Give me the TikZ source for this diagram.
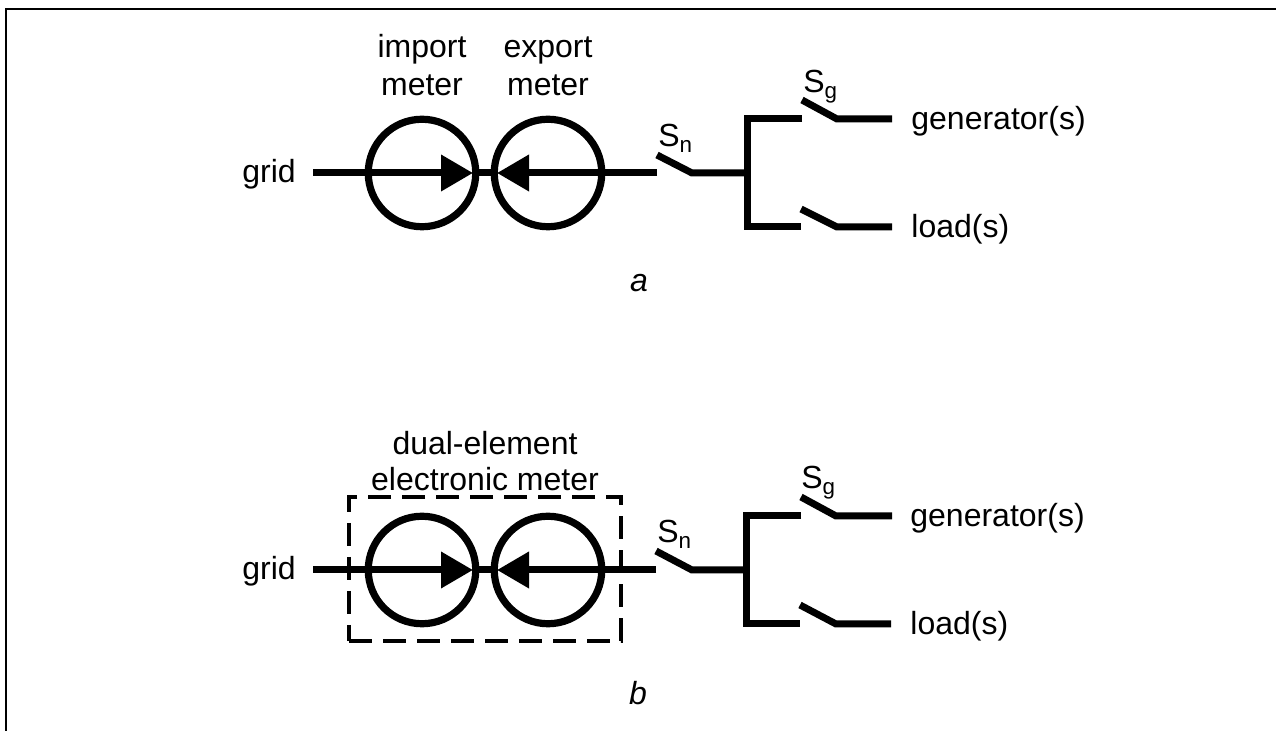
\documentclass[tikz,border=0pt]{standalone}
\usepackage{fontspec}
\setmainfont{Liberation Sans}
\usetikzlibrary{arrows.meta}
\tikzset{
  wire/.style={line width=3.5pt},
  meter/.style={draw, circle, line width=3.6pt, minimum size=53.75pt, inner sep=0pt},
  flow/.style={wire, -{Triangle[length=16pt, width=17.5pt]}},
  dashbox/.style={draw, line width=2.1pt, dash pattern=on 11.5pt off 5.5pt, minimum width=136pt, minimum height=72pt, inner sep=0pt},
  label/.style={font=\fontsize{16}{19}\selectfont, anchor=base, inner sep=0pt, align=center},
  tag/.style={font=\fontsize{16}{19}\selectfont, anchor=base west, inner sep=0pt}
}

\begin{document}
\begin{tikzpicture}[x=.5pt, y=-.5pt]
  \useasboundingbox (0, 0) rectangle (1276, 731);
  % frame
  \coordinate (frameL) at (6, 731);
  \coordinate (frameC) at (6, 9);
  \coordinate (frameR) at (1276, 9);
  \draw[line width=1.3pt] (frameL) -- (frameC) -- (frameR);

  % diagram a: meters
  \node[meter] (impA) at (422, 173) {};
  \node[meter] (expA) at (548, 173) {};
  \coordinate (startA) at (313, 173);
  \coordinate (tipLA) at (473, 173);
  \coordinate (tipRA) at (497, 173);
  \coordinate (stopA) at (657, 173);
  \draw[flow] (startA) -- (tipLA);
  \draw[flow] (stopA) -- (tipRA);
  \draw[wire] (tipLA) -- (tipRA);
  % diagram a: switches
  \coordinate (snOpenA) at (657, 155);
  \coordinate (snA) at (692, 173);
  \coordinate (busA) at (747, 173);
  \coordinate (busTopA) at (747, 119);
  \coordinate (busLowA) at (747, 227);
  \coordinate (sgInA) at (802, 119);
  \coordinate (sgOpenA) at (802, 100);
  \coordinate (sgA) at (837, 119);
  \coordinate (genA) at (892, 119);
  \coordinate (slInA) at (801, 227);
  \coordinate (slOpenA) at (801, 209);
  \coordinate (slA) at (837, 227);
  \coordinate (loadA) at (892, 227);
  \draw[wire] (snOpenA) -- (snA) -- (busA);
  \draw[wire] (sgInA) -- (busTopA) -- (busLowA) -- (slInA);
  \draw[wire] (sgOpenA) -- (sgA) -- (genA);
  \draw[wire] (slOpenA) -- (slA) -- (loadA);
  % diagram a: labels
  \node[label] (gridA) at (269, 183) {grid};
  \node[label] (impTextA) at (422, 96) {import\\meter};
  \node[label] (expTextA) at (548, 96) {export\\meter};
  \node[tag] (snTextA) at (658, 147) {S\textsubscript{n}};
  \node[tag] (sgTextA) at (803, 93) {S\textsubscript{g}};
  \node[tag] (genTextA) at (911, 130) {generator(s)};
  \node[tag] (loadTextA) at (911, 238) {load(s)};
  \node[label] (capA) at (639, 292) {\itshape a};

  % diagram b: meters
  \node[dashbox] (boxB) at (485, 569) {};
  \node[meter] (impB) at (422, 570) {};
  \node[meter] (expB) at (548, 570) {};
  \coordinate (startB) at (313, 570);
  \coordinate (tipLB) at (473, 570);
  \coordinate (tipRB) at (497, 570);
  \coordinate (stopB) at (656, 570);
  \draw[flow] (startB) -- (tipLB);
  \draw[flow] (stopB) -- (tipRB);
  \draw[wire] (tipLB) -- (tipRB);
  % diagram b: switches
  \coordinate (snOpenB) at (656, 551);
  \coordinate (snB) at (692, 570);
  \coordinate (busB) at (746, 570);
  \coordinate (busTopB) at (746, 516);
  \coordinate (busLowB) at (746, 624);
  \coordinate (sgInB) at (801, 516);
  \coordinate (sgOpenB) at (801, 497);
  \coordinate (sgB) at (836, 516);
  \coordinate (genB) at (892, 516);
  \coordinate (slInB) at (800, 624);
  \coordinate (slOpenB) at (800, 605);
  \coordinate (slB) at (836, 624);
  \coordinate (loadB) at (891, 624);
  \draw[wire] (snOpenB) -- (snB) -- (busB);
  \draw[wire] (sgInB) -- (busTopB) -- (busLowB) -- (slInB);
  \draw[wire] (sgOpenB) -- (sgB) -- (genB);
  \draw[wire] (slOpenB) -- (slB) -- (loadB);
  % diagram b: labels
  \node[label] (gridB) at (269, 580) {grid};
  \node[label] (dualTextB) at (485, 491) {dual-element\\[-1pt]electronic meter};
  \node[tag] (snTextB) at (657, 543) {S\textsubscript{n}};
  \node[tag] (sgTextB) at (801, 489) {S\textsubscript{g}};
  \node[tag] (genTextB) at (910, 527) {generator(s)};
  \node[tag] (loadTextB) at (910, 635) {load(s)};
  \node[label] (capB) at (638, 705) {\itshape b};
\end{tikzpicture}
\end{document}
